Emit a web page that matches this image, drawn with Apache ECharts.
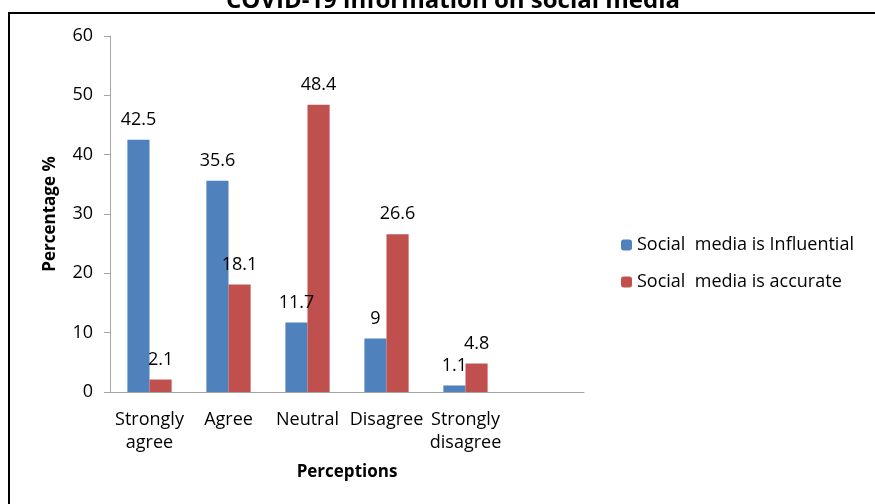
<!DOCTYPE html>
<html lang="en">
<head>
    <meta charset="UTF-8">
    <title>COVID-19 information on social media</title>
    <script src="https://cdn.jsdelivr.net/npm/echarts@6/dist/echarts.min.js"></script>
    <style>
        html, body { margin: 0; padding: 0; background: #fff; }
        #main { width: 875px; height: 504px; }
    </style>
</head>
<body>
    <div id="main"></div>
    <script type="text/javascript">
        // data
        var categories = ['Strongly\nagree', 'Agree', 'Neutral', 'Disagree', 'Strongly\ndisagree', ''];
        var influential = [42.5, 35.6, 11.7, 9, 1.1, '-'];
        var accurate = [2.1, 18.1, 48.4, 26.6, 4.8, '-'];
        var yTicks = [0, 10, 20, 30, 40, 50, 60];

        var font = 'Open Sans';
        var myChart = echarts.init(document.getElementById('main'));
        var option = {
            backgroundColor: '#fff',
            animation: false,
            title: {
                text: 'COVID-19 information on social media',
                left: 448,
                textAlign: 'center',
                top: -16,
                textStyle: { fontFamily: font, fontWeight: 'bold', fontSize: 24, color: '#000' }
            },
            graphic: [{
                type: 'rect',
                shape: { x: 9, y: 13, width: 880, height: 510 },
                style: { fill: 'none', stroke: '#000', lineWidth: 2 },
                silent: true
            }],
            legend: {
                orient: 'vertical',
                left: 616,
                top: 231,
                itemWidth: 11,
                itemHeight: 11,
                itemGap: 19,
                textStyle: { fontFamily: font, fontSize: 18, color: '#000' },
                data: ['Social  media is Influential', 'Social  media is accurate']
            },
            grid: { left: 110, right: 291, top: 36, bottom: 112 },
            xAxis: {
                type: 'category',
                data: categories,
                name: 'Perceptions',
                nameLocation: 'middle',
                nameGap: 72,
                nameTextStyle: { fontFamily: font, fontWeight: 'bold', fontSize: 17, color: '#000' },
                axisLine: { lineStyle: { color: '#a6a6a6', width: 1 } },
                axisTick: { show: false },
                axisLabel: { fontFamily: font, fontSize: 18, color: '#000', margin: 16, interval: 0, lineHeight: 23 }
            },
            yAxis: {
                type: 'value',
                min: yTicks[0],
                max: yTicks[yTicks.length - 1],
                interval: 10,
                name: 'Percentage %',
                nameLocation: 'middle',
                nameGap: 51,
                nameTextStyle: { fontFamily: font, fontWeight: 'bold', fontSize: 17, color: '#000' },
                axisLine: { show: true, lineStyle: { color: '#a6a6a6', width: 1 } },
                axisTick: { show: true, length: 6, lineStyle: { color: '#a6a6a6' } },
                splitLine: { show: false },
                axisLabel: { fontFamily: font, fontSize: 18, color: '#000', margin: 17 }
            },
            series: [{
                name: 'Social  media is Influential',
                type: 'bar',
                data: influential,
                barGap: '0%',
                barCategoryGap: '44%',
                itemStyle: { color: '#4f81bd' },
                label: { show: true, position: 'top', distance: 11, fontFamily: font, fontSize: 18, color: '#000' }
            }, {
                name: 'Social  media is accurate',
                type: 'bar',
                data: accurate,
                itemStyle: { color: '#c0504d' },
                label: { show: true, position: 'top', distance: 11, fontFamily: font, fontSize: 18, color: '#000' }
            }]
        };
        myChart.setOption(option);
    </script>
</body>
</html>
